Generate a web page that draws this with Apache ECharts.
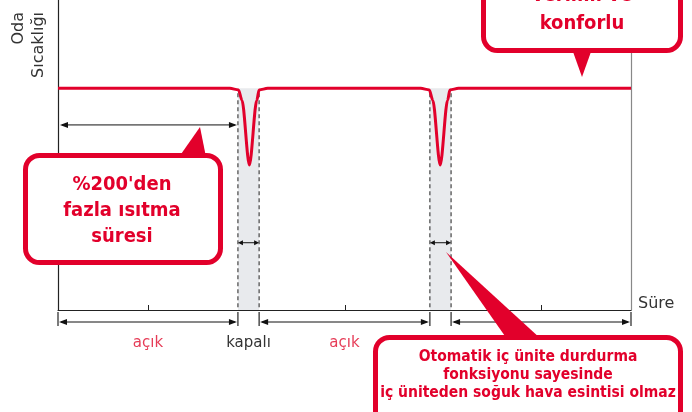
<!DOCTYPE html>
<html>
<head>
<meta charset="utf-8">
<script src="https://cdn.jsdelivr.net/npm/echarts@6/dist/echarts.min.js"></script>
<style>
    html, body { margin: 0; padding: 0; background: #fff; }
    #chart { width: 692px; height: 412px; }
</style>
</head>
<body>
<div id="chart"></div>
<script>
    // sıcaklık eğrisi: x = süre, y = oda sıcaklığı (0-100)
    var timeX = [0, 30.0, 31.5, 32.1, 33.4, 34.7, 35.1, 36.6, 63.3, 64.8, 65.4, 66.7, 68.0, 68.4, 69.9, 100];
    var tempY = [71.5, 71.5, 71.0, 67.7, 46.8, 67.7, 71.0, 71.5, 71.5, 71.0, 67.7, 46.8, 67.7, 71.0, 71.5, 71.5];
    // kapalı dönemler
    var offBands = [[31.4, 35.1], [64.9, 68.6]];
    // açık dönemlerin orta çizgileri
    var midTicks = [15.7, 50.1, 84.3];
    var segLabels = ['açık', 'kapalı', 'açık', 'kapalı', 'açık'];

    var RED = '#e2002b';
    var FONT = '"DejaVu Sans", sans-serif';
    var BOX_FONT = '"DejaVu Sans Condensed", "DejaVu Sans", sans-serif';

    var chart = echarts.init(document.getElementById('chart'));

    var hidden = { show: false };
    chart.setOption({
        animation: false,
        grid: { left: 58, right: 61, top: 0, bottom: 102 },
        xAxis: {
            type: 'value', min: 0, max: 100,
            axisLine: { lineStyle: { color: '#222', width: 1.2 } },
            axisTick: { show: true, inside: true, length: 5, customValues: midTicks, lineStyle: { color: '#222' } },
            axisLabel: hidden,
            splitLine: hidden
        },
        yAxis: [{
            type: 'value', min: 0, max: 100,
            axisLine: { show: true, lineStyle: { color: '#222', width: 1.2 } },
            axisTick: hidden, axisLabel: hidden, splitLine: hidden
        }, {
            type: 'value', min: 0, max: 100, position: 'right',
            axisLine: { show: true, lineStyle: { color: '#888', width: 1.2 } },
            axisTick: hidden, axisLabel: hidden, splitLine: hidden
        }],
        series: [{
            type: 'line',
            data: timeX.map(function (x, i) { return [x, tempY[i]]; }),
            smooth: 0.3,
            smoothMonotone: 'x',
            symbol: 'none',
            lineStyle: { color: RED, width: 3 },
            z: 5
        }]
    });

    function px(x, y) { return chart.convertToPixel({ gridIndex: 0 }, [x, y]); }

    function arrowH(x1, x2, y, a, w) {
        var c = '#111';
        return [
            { type: 'line', shape: { x1: x1 + 2, y1: y, x2: x2 - 2, y2: y }, style: { stroke: c, lineWidth: 1 }, z: 20 },
            { type: 'polygon', shape: { points: [[x1, y], [x1 + a, y - w], [x1 + a, y + w]] }, style: { fill: c }, z: 20 },
            { type: 'polygon', shape: { points: [[x2, y], [x2 - a, y - w], [x2 - a, y + w]] }, style: { fill: c }, z: 20 }
        ];
    }

    function callout(box, tail, style) {
        return [
            { type: 'rect', shape: { x: box[0], y: box[1], width: box[2], height: box[3], r: 14 },
              style: { fill: '#fff', stroke: RED, lineWidth: 5 }, z: 30 },
            { type: 'polygon', shape: { points: tail }, style: { fill: RED }, z: 31 },
            { type: 'text', style: style, z: 32 }
        ];
    }

    var els = [];
    var axisY = px(0, 0)[1];
    var lineTop = px(0, 71.5)[1];

    // kapalı bantlar ve kesikli çizgiler
    offBands.forEach(function (b) {
        var l = px(b[0], 0)[0], r = px(b[1], 0)[0];
        els.push({ type: 'rect', shape: { x: l, y: lineTop, width: r - l, height: axisY - lineTop }, style: { fill: '#e8eaed' }, z: 1 });
        [l, r].forEach(function (x) {
            els.push({ type: 'line', shape: { x1: x, y1: lineTop + 5, x2: x, y2: axisY }, style: { stroke: '#444', lineWidth: 1.2, lineDash: [4, 3] }, z: 2 });
        });
        var ys = px(0, 21.7)[1];
        els = els.concat(arrowH(l, r, ys, 5, 2.5));
    });

    // ısıtma süresi oku
    var yArr = px(0, 59.7)[1];
    els = els.concat(arrowH(px(0, 0)[0] + 2, px(offBands[0][0], 0)[0] - 1, yArr, 8, 3));

    // alt segmentler
    var bounds = [0];
    offBands.forEach(function (b) { bounds.push(b[0], b[1]); });
    bounds.push(100);
    var yB = axisY + 12;
    bounds.forEach(function (v) {
        var x = px(v, 0)[0];
        els.push({ type: 'line', shape: { x1: x, y1: axisY + 2, x2: x, y2: axisY + 16 }, style: { stroke: '#222', lineWidth: 1.2 }, z: 20 });
    });
    for (var i = 0; i < bounds.length - 1; i++) {
        var x1 = px(bounds[i], 0)[0], x2 = px(bounds[i + 1], 0)[0];
        if (i % 2 === 0) els = els.concat(arrowH(x1 + 1, x2 - 1, yB, 8, 3));
        var lbl = segLabels[i];
        els.push({ type: 'text', style: { text: lbl, x: (x1 + x2) / 2, y: axisY + 33, align: 'center', verticalAlign: 'middle',
            fill: lbl === 'açık' ? '#e63c57' : '#333', font: '15px ' + FONT }, z: 20 });
    }

    els.push({ type: 'text', style: { text: 'Süre', x: px(100, 0)[0] + 7, y: axisY - 6, align: 'left', verticalAlign: 'middle', fill: '#333', font: '16px ' + FONT }, z: 20 });
    els.push({ type: 'text', rotation: Math.PI / 2, x: 29, y: 12,
        style: { text: 'Oda\nSıcaklığı', x: 0, y: 0, align: 'right', verticalAlign: 'middle', lineHeight: 20, fill: '#333', font: '16px ' + FONT }, z: 20 });

    // açıklama kutuları
    els = els.concat(callout([483.5, -40, 197, 90.5], [[572, 49], [582, 77], [592, 49]], {
        text: 'verimli ve\nkonforlu', x: 582, y: 9.5, align: 'center', verticalAlign: 'middle', lineHeight: 28,
        fill: RED, font: 'bold 20px ' + BOX_FONT
    }));
    els = els.concat(callout([25.5, 155.5, 195, 107], [[179, 157], [200, 127], [206, 157]], {
        text: '{b|%200}\'den\nfazla ısıtma\nsüresi', x: 122, y: 211, align: 'center', verticalAlign: 'middle', lineHeight: 26,
        fill: RED, font: 'bold 20px ' + BOX_FONT,
        rich: { b: { font: 'bold 20px ' + BOX_FONT, fill: RED, lineHeight: 26 } }
    }));
    els = els.concat(callout([375.5, 337.5, 305, 100], [[507, 339], [446, 252], [541, 339]], {
        text: 'Otomatik iç ünite durdurma\nfonksiyonu sayesinde\niç üniteden soğuk hava esintisi olmaz', x: 528, y: 375, align: 'center', verticalAlign: 'middle', lineHeight: 18,
        fill: RED, font: 'bold 15.5px ' + BOX_FONT
    }));

    chart.setOption({ graphic: { elements: els } });
</script>
</body>
</html>
